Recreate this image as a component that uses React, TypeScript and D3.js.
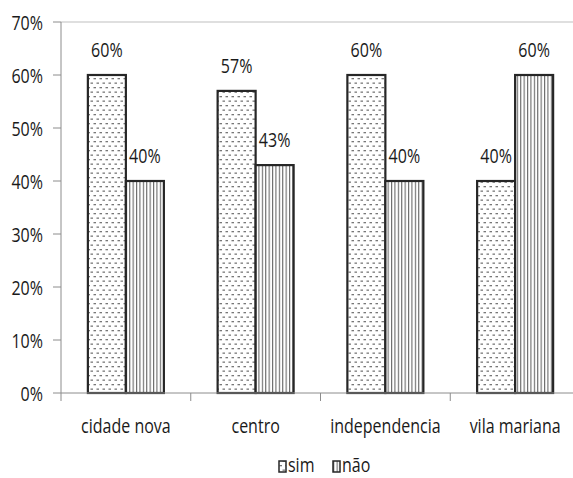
import React from "react";
import * as d3 from "d3";

const categories = ["cidade nova", "centro", "independencia", "vila mariana"];
const seriesNames = ["sim", "não"];
const simValues = [0.6, 0.57, 0.6, 0.4];
const naoValues = [0.4, 0.43, 0.4, 0.6];
const yTicks = [0, 0.1, 0.2, 0.3, 0.4, 0.5, 0.6, 0.7];

const W = 573;
const H = 478;
const FONT = "'Open Sans', 'Noto Sans', sans-serif";
const SX = 0.8;
const textColor = "#1a1a1a";

function T({ x, y, anchor = "start", children }: { x: number; y: number; anchor?: string; children: any }) {
  return (
    <text
      transform={`translate(${x},${y}) scale(${SX},1)`}
      textAnchor={anchor as any}
      fontSize={20}
      fill={textColor}
    >
      {children}
    </text>
  );
}

export default function App() {
  const left = 61;
  const top = 22;
  const bottom = 393;
  const x0 = d3.scaleBand<string>().domain(categories).range([left, left + 4 * 129.75]);
  const groupW = 76;
  const x1 = d3
    .scaleBand<string>()
    .domain(seriesNames)
    .range([(x0.bandwidth() - groupW) / 2, (x0.bandwidth() + groupW) / 2]);
  const y = d3.scaleLinear().domain([0, 0.7]).range([bottom, top]);
  const fmt = d3.format(".0%");
  const series = [
    { name: "sim", values: simValues, fill: "url(#patSim)" },
    { name: "não", values: naoValues, fill: "url(#patNao)" },
  ];
  const boundaries = categories.map((c) => x0(c)!).concat([x0(categories[3])! + x0.bandwidth()]);

  return (
    <svg
      width={W}
      height={H}
      style={{ position: "absolute", left: 0, top: 0, background: "#fff" }}
      fontFamily={FONT}
    >
      <defs>
        <pattern id="patSim" patternUnits="userSpaceOnUse" width="6" height="9">
          <rect width="6" height="9" fill="#fff" />
          <rect x="0.5" y="1.5" width="2.5" height="1.3" fill="#777" />
          <rect x="3.5" y="6" width="2.5" height="1.3" fill="#777" />
        </pattern>
        <pattern id="patNao" patternUnits="userSpaceOnUse" width="3.4" height="4">
          <rect width="3.4" height="4" fill="#fff" />
          <rect x="0" y="0" width="1.1" height="4" fill="#666" />
        </pattern>
      </defs>

      {/* top border */}
      <line x1={left} x2={W} y1={top} y2={top} stroke="#bfbfbf" strokeWidth={1} />

      {/* y axis */}
      <line x1={left} x2={left} y1={top} y2={bottom} stroke="#8c8c8c" strokeWidth={1} />
      {yTicks.map((t) => (
        <g key={t}>
          <line x1={left - 8} x2={left} y1={y(t)} y2={y(t)} stroke="#8c8c8c" />
          <T x={43} y={y(t) + 8} anchor="end">
            {fmt(t)}
          </T>
        </g>
      ))}

      {/* bars */}
      {series.map((s) =>
        categories.map((c, i) => {
          const bx = x0(c)! + x1(s.name)!;
          const by = y(s.values[i]);
          return (
            <g key={s.name + c}>
              <rect
                x={bx}
                y={by}
                width={x1.bandwidth()}
                height={bottom - by}
                fill={s.fill}
                stroke="#262626"
                strokeWidth={2.2}
              />
              <T x={bx + x1.bandwidth() / 2} y={by - 18} anchor="middle">
                {fmt(s.values[i])}
              </T>
            </g>
          );
        })
      )}

      {/* x axis */}
      <line x1={left} x2={W} y1={bottom} y2={bottom} stroke="#8c8c8c" strokeWidth={1} />
      {boundaries.map((bx, i) => (
        <line key={i} x1={bx} x2={bx} y1={bottom} y2={bottom + 8} stroke="#8c8c8c" />
      ))}
      {categories.map((c) => (
        <T key={c} x={x0(c)! + x0.bandwidth() / 2} y={433} anchor="middle">
          {c}
        </T>
      ))}

      {/* legend */}
      <g>
        <rect x={279} y={461} width={7} height={11} fill="url(#patSim)" stroke="#262626" strokeWidth={1.5} />
        <T x={288} y={472}>
          {seriesNames[0]}
        </T>
        <rect x={333} y={461} width={7} height={11} fill="url(#patNao)" stroke="#262626" strokeWidth={1.5} />
        <T x={342} y={472}>
          {seriesNames[1]}
        </T>
      </g>
    </svg>
  );
}
